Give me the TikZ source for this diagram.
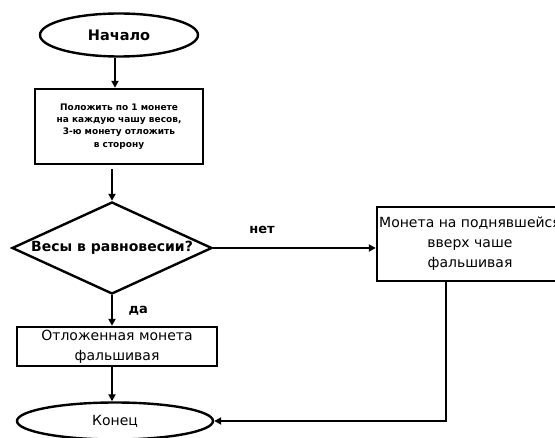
\documentclass[tikz,border=0pt]{standalone}
\usepackage{fontspec}
\setmainfont{DejaVu Sans}
\usetikzlibrary{shapes.geometric,arrows.meta}

\begin{document}
\begin{tikzpicture}[
  x=1pt, y=-1pt,
  font=\fontsize{14}{20}\selectfont,
  term/.style={draw, ellipse, line width=2.4pt, inner sep=0pt},
  block/.style={draw, rectangle, line width=2.4pt, align=center, inner sep=0pt},
  cond/.style={draw, diamond, line width=2.4pt, inner sep=0pt},
  arr/.style={line width=2.4pt, -{Triangle[length=7pt, width=7pt]}},
  lbl/.style={font=\fontsize{13}{15}\selectfont\bfseries}]
\useasboundingbox (0,0) rectangle (555,438);
\node[term, minimum width=158pt, minimum height=43pt, font=\fontsize{14.5}{16}\selectfont\bfseries] (start) at (119,35) {Начало};
\node[block, minimum width=168pt, minimum height=75pt, font=\fontsize{9}{12.3}\selectfont\bfseries] (put) at (119,126.5)
  {Положить по 1 монете\\на каждую чашу весов,\\3-ю монету отложить\\в сторону};
\node[cond, minimum width=200pt, minimum height=92pt] (check) at (112,248)
  {\makebox[0pt]{\bfseries Весы в равновесии?}};
\node[block, minimum width=200pt, minimum height=39pt] (fake) at (117,346.5)
  {Отложенная монета\\фальшивая};
\node[block, minimum width=186pt, minimum height=74pt] (up) at (470,244)
  {Монета на поднявшейся\\вверх чаше\\фальшивая};
\node[term, minimum width=196pt, minimum height=37pt] (finish) at (115,421) {Конец};
\draw[arr] ([xshift=-4pt]start.south) -- ([xshift=-4pt]put.north);
\draw[arr] ([yshift=-4pt]put.south -| check.north) -- (check.north);
\draw[arr] (check.east) -- node[lbl, pos=0.3, above=10pt]{нет} (check.east -| up.west);
\draw[arr] (check.south) -- node[lbl, right=12pt]{да} (check.south |- fake.north);
\draw[arr] (fake.south -| check.south) -- (finish.north -| check.south);
\draw[arr] ([xshift=-24pt]up.south) |- (finish.east);
\end{tikzpicture}
\end{document}
